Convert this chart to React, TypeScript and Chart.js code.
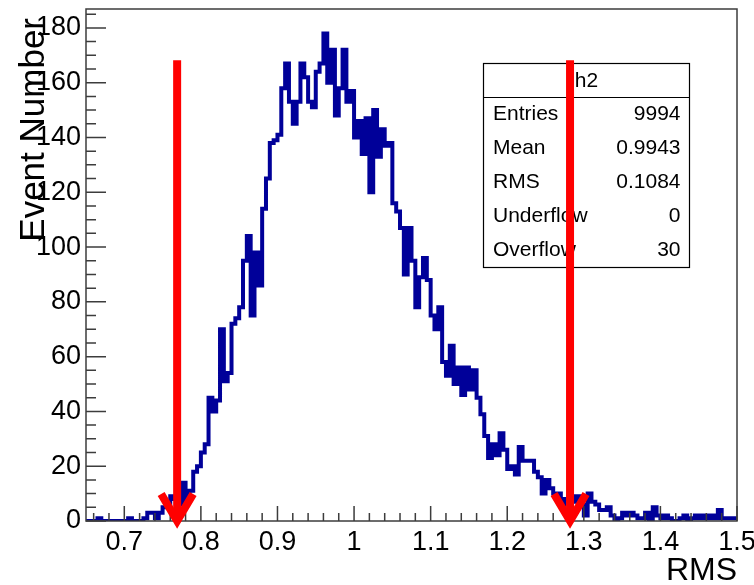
import React, { useEffect, useRef } from 'react';
import { Chart, registerables } from 'chart.js';

Chart.register(...registerables);

// ---------------- data ----------------
const X_MIN = 0.65;
const X_MAX = 1.5;
const BIN_WIDTH = 0.005;
const Y_MAX = 186.9;

const COUNTS: number[] = [
  0, 0, 0, 1, 0, 0, 0, 0, 0, 0,
  0, 1, 0, 0, 0, 1, 3, 3, 1, 3,
  5, 5, 9, 8, 6, 14, 7, 11, 18, 20,
  25, 28, 45, 40, 44, 70, 51, 54, 72, 74,
  78, 95, 104, 75, 98, 86, 114, 125, 138, 139,
  141, 158, 167, 153, 145, 153, 167, 162, 153, 151,
  164, 167, 178, 160, 172, 148, 158, 172, 153, 157,
  140, 146, 134, 147, 120, 150, 133, 143, 137, 138,
  116, 113, 107, 90, 107, 95, 78, 89, 96, 88,
  75, 70, 78, 58, 53, 64, 50, 56, 46, 56,
  48, 55, 45, 39, 31, 23, 28, 24, 32, 26,
  19, 20, 17, 27, 22, 22, 22, 18, 16, 10,
  15, 12, 10, 10, 6, 8, 9, 7, 9, 6,
  2, 10, 7, 6, 4, 4, 5, 2, 0, 1,
  3, 2, 3, 2, 1, 1, 3, 0, 5, 2,
  1, 2, 1, 0, 0, 1, 2, 0, 1, 2,
  1, 2, 1, 2, 1, 4, 1, 1, 1, 1,
];

const X_TICK_LABELS = ['0.7', '0.8', '0.9', '1', '1.1', '1.2', '1.3', '1.4', '1.5'];
const Y_TICK_LABELS = ['0', '20', '40', '60', '80', '100', '120', '140', '160', '180'];
const X_MINOR_STEP = 0.02;
const Y_MINOR_STEP = 5;

const X_TITLE = 'RMS';
const Y_TITLE = 'Event Number';

const STATS_NAME = 'h2';
const STATS_LABELS = ['Entries', 'Mean', 'RMS', 'Underflow', 'Overflow'];
const STATS_VALUES = ['9994', '0.9943', '0.1084', '0', '30'];

const CUT_POSITIONS = [0.769, 1.282];
const CUT_TOP = 168.2;

// ---------------- style / layout ----------------
const FONT = '"Liberation Sans", Arial, Helvetica, sans-serif';
const HIST_COLOR = '#000099';
const AXIS_COLOR = '#3c3c3c';
const ARROW_COLOR = '#ff0000';
const LABEL_SIZE = 27;
const X_TITLE_SIZE = 32;
const Y_TITLE_SIZE = 35;
const STATS_SIZE = 21;
const STATS_BOX = { x: 483.5, y: 63.5, w: 206, h: 204, header: 34 };

const rootStylePlugin = {
  id: 'rootStyle',
  afterDatasetsDraw(chart: any) {
    const ctx: CanvasRenderingContext2D = chart.ctx;
    const xs = chart.scales.x;
    const ys = chart.scales.y;
    const { left, right, top, bottom } = chart.chartArea;
    ctx.save();

    // frame
    ctx.strokeStyle = AXIS_COLOR;
    ctx.lineWidth = 1.5;
    ctx.strokeRect(left, top, right - left, bottom - top);

    // ticks
    ctx.beginPath();
    for (let v = 0; v <= Y_MAX + 1e-9; v += Y_MINOR_STEP) {
      const py = ys.getPixelForValue(v);
      const major = Math.abs(v % 20) < 1e-9;
      ctx.moveTo(left, py);
      ctx.lineTo(left + (major ? 20 : 10), py);
    }
    const kStart = Math.ceil(X_MIN / X_MINOR_STEP - 1e-9);
    const kEnd = Math.floor(X_MAX / X_MINOR_STEP + 1e-9);
    for (let k = kStart; k <= kEnd; k++) {
      const v = k * X_MINOR_STEP;
      const px = xs.getPixelForValue(v);
      const major = k % 5 === 0;
      ctx.moveTo(px, bottom);
      ctx.lineTo(px, bottom - (major ? 15 : 8));
    }
    ctx.stroke();

    // tick labels
    ctx.fillStyle = '#000';
    ctx.font = `${LABEL_SIZE}px ${FONT}`;
    ctx.textAlign = 'right';
    ctx.textBaseline = 'middle';
    Y_TICK_LABELS.forEach((lab) => {
      const py = ys.getPixelForValue(parseFloat(lab));
      ctx.fillText(lab, left - 5, py);
    });
    ctx.textAlign = 'center';
    ctx.textBaseline = 'top';
    X_TICK_LABELS.forEach((lab) => {
      const px = xs.getPixelForValue(parseFloat(lab));
      ctx.fillText(lab, px, bottom + 8);
    });

    // axis titles
    ctx.font = `${X_TITLE_SIZE}px ${FONT}`;
    ctx.textAlign = 'right';
    ctx.textBaseline = 'alphabetic';
    ctx.fillText(X_TITLE, right, 580);
    ctx.save();
    ctx.font = `${Y_TITLE_SIZE}px ${FONT}`;
    ctx.translate(44, top + 9);
    ctx.rotate(-Math.PI / 2);
    ctx.textAlign = 'right';
    ctx.fillText(Y_TITLE, 0, 0);
    ctx.restore();

    // stats box
    const b = STATS_BOX;
    ctx.fillStyle = '#fff';
    ctx.fillRect(b.x, b.y, b.w, b.h);
    ctx.strokeStyle = '#000';
    ctx.lineWidth = 1.2;
    ctx.strokeRect(b.x, b.y, b.w, b.h);
    ctx.beginPath();
    ctx.moveTo(b.x, b.y + b.header);
    ctx.lineTo(b.x + b.w, b.y + b.header);
    ctx.stroke();
    ctx.fillStyle = '#000';
    ctx.font = `${STATS_SIZE}px ${FONT}`;
    ctx.textBaseline = 'middle';
    ctx.textAlign = 'center';
    ctx.fillText(STATS_NAME, b.x + b.w / 2, b.y + b.header / 2 + 1);
    const rowH = (b.h - b.header) / STATS_LABELS.length;
    STATS_LABELS.forEach((lab, i) => {
      const cy = b.y + b.header + rowH * (i + 0.5);
      ctx.textAlign = 'left';
      ctx.fillText(lab, b.x + 9.5, cy);
      ctx.textAlign = 'right';
      ctx.fillText(STATS_VALUES[i], b.x + b.w - 9, cy);
    });

    // cut arrows
    ctx.strokeStyle = ARROW_COLOR;
    ctx.lineWidth = 8;
    ctx.lineJoin = 'miter';
    ctx.lineCap = 'butt';
    CUT_POSITIONS.forEach((v) => {
      const px = xs.getPixelForValue(v);
      const pTop = ys.getPixelForValue(CUT_TOP);
      const pTip = ys.getPixelForValue(0);
      ctx.beginPath();
      ctx.moveTo(px, pTop);
      ctx.lineTo(px, pTip - 4);
      ctx.stroke();
      ctx.beginPath();
      ctx.moveTo(px - 16, pTip - 27);
      ctx.lineTo(px, pTip);
      ctx.lineTo(px + 16, pTip - 27);
      ctx.stroke();
    });

    ctx.restore();
  },
};

export default function App() {
  const canvasRef = useRef<HTMLCanvasElement | null>(null);

  useEffect(() => {
    const canvas = canvasRef.current;
    if (!canvas) return;
    const points = COUNTS.map((c, i) => ({ x: X_MIN + i * BIN_WIDTH, y: c }));
    points.push({ x: X_MAX, y: COUNTS[COUNTS.length - 1] });

    const chart = new Chart(canvas, {
      type: 'line',
      data: {
        datasets: [
          {
            label: 'h2',
            data: points,
            borderColor: HIST_COLOR,
            borderWidth: 4,
            pointRadius: 0,
            stepped: 'before',
            fill: false,
          },
        ],
      },
      options: {
        responsive: false,
        animation: false,
        devicePixelRatio: 1,
        layout: { padding: { left: 86, right: 17, top: 9, bottom: 64 } },
        plugins: { legend: { display: false }, tooltip: { enabled: false } },
        scales: {
          x: { type: 'linear', min: X_MIN, max: X_MAX, display: false },
          y: { type: 'linear', min: 0, max: Y_MAX, display: false },
        },
      },
      plugins: [rootStylePlugin],
    });
    return () => chart.destroy();
  }, []);

  return (
    <div style={{ position: 'fixed', left: 0, top: 0, width: 754, height: 585, background: '#fff' }}>
      <canvas ref={canvasRef} width={754} height={585} style={{ display: 'block' }} />
    </div>
  );
}
